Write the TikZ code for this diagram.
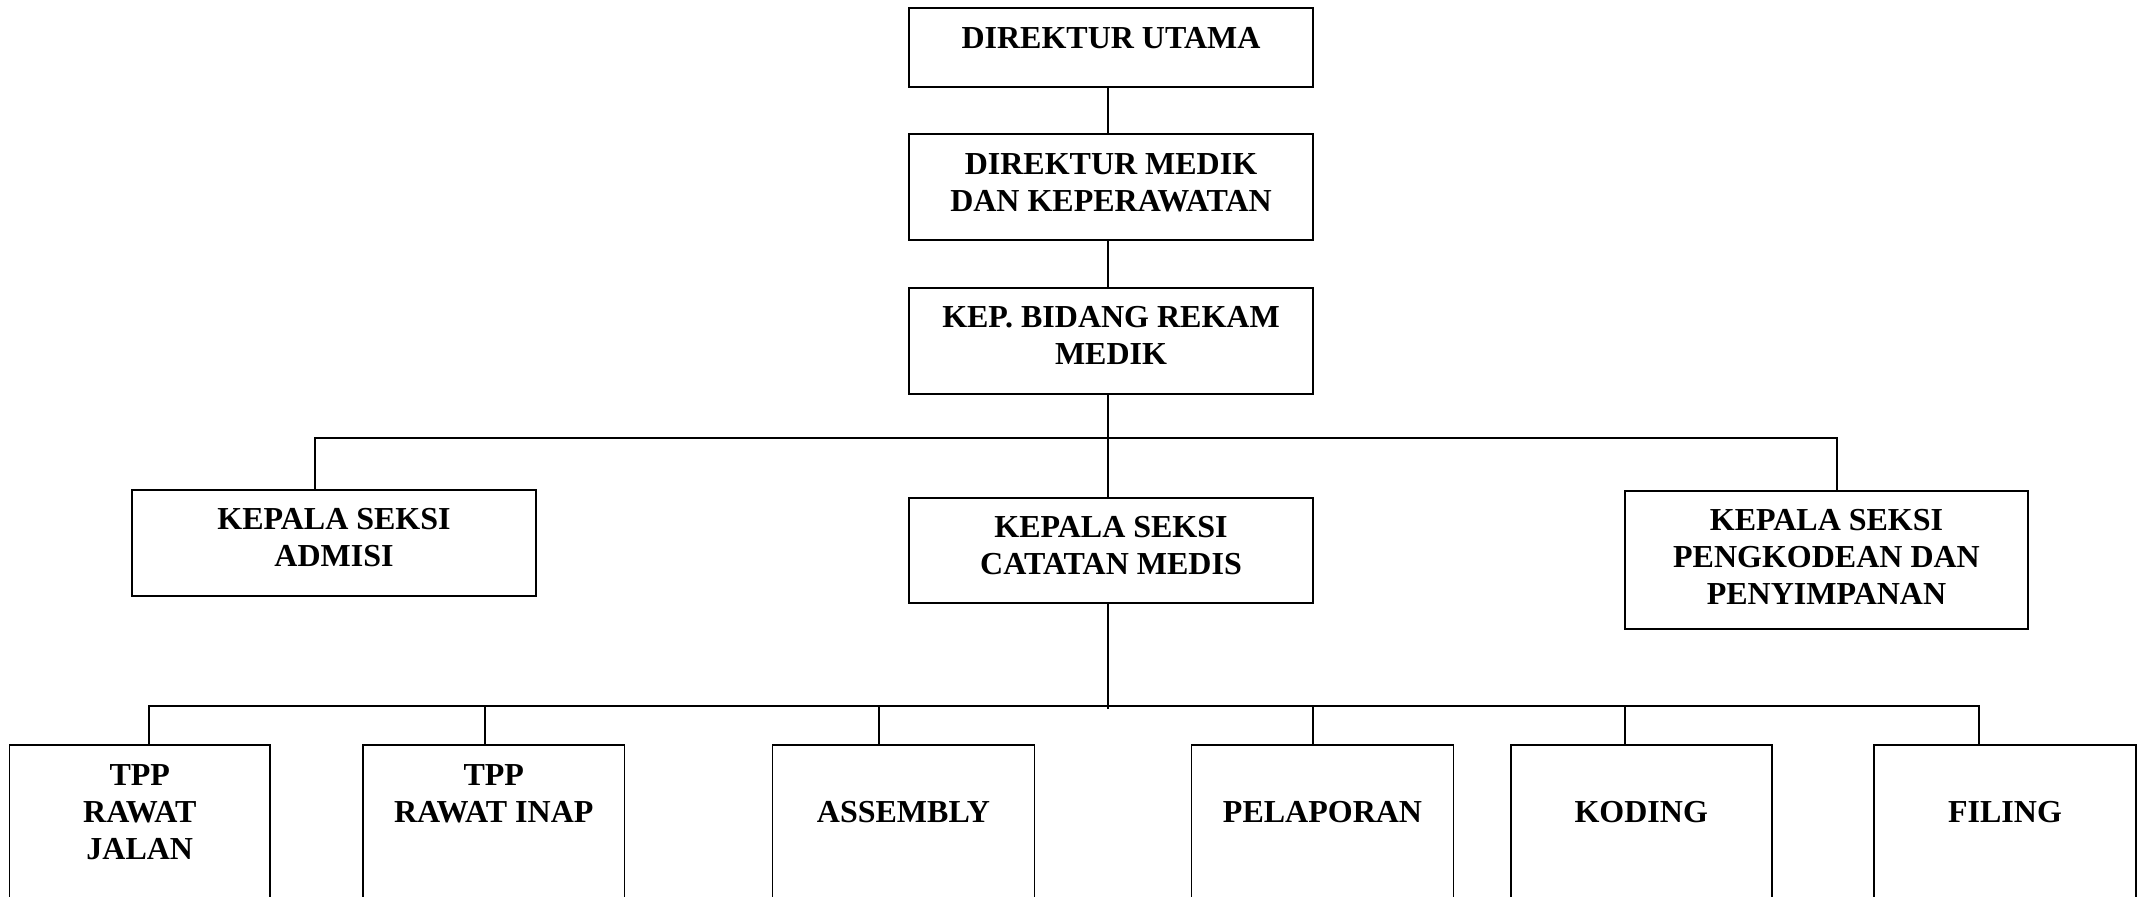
\documentclass[tikz,border=0pt]{standalone}
\usepackage{fontspec}
\setmainfont{Liberation Serif}
\begin{document}
\begin{tikzpicture}[x=0.5pt,y=-0.5pt,
  box/.style={draw=black,line width=0.8pt,rectangle,inner sep=0pt},
  conn/.style={draw=black,line width=0.9pt},
  txt/.style={inner sep=0pt,align=center,anchor=north,font=\fontsize{16}{18.5}\selectfont\bfseries}]
\clip (0,0) rectangle (2140,897);
\fill[white] (0,0) rectangle (2140,897);
% boxes
\node[box,minimum width=202pt,minimum height=39.5pt] (d1) at (1111,47.5) {};
\node[box,minimum width=202pt,minimum height=53pt] (d2) at (1111,187) {};
\node[box,minimum width=202pt,minimum height=53pt] (d3) at (1111,341) {};
\node[box,minimum width=202pt,minimum height=53pt] (adm) at (334,543) {};
\node[box,minimum width=202pt,minimum height=52.5pt] (cat) at (1111,550.5) {};
\node[box,minimum width=201.5pt,minimum height=69pt] (pk) at (1826.5,560) {};
\node[box,minimum width=130.25pt,minimum height=102.5pt] (b1) at (139.75,847.5) {};
\node[box,minimum width=130.75pt,minimum height=102.5pt] (b2) at (493.75,847.5) {};
\node[box,minimum width=131pt,minimum height=102.5pt] (b3) at (903.5,847.5) {};
\node[box,minimum width=131pt,minimum height=102.5pt] (b4) at (1322.5,847.5) {};
\node[box,minimum width=130.5pt,minimum height=102.5pt] (b5) at (1641.25,847.5) {};
\node[box,minimum width=131pt,minimum height=102.5pt] (b6) at (2005,847.5) {};
% texts
\node[txt] (t1) at ([yshift=-10pt]d1.north) {DIREKTUR UTAMA};
\node[txt] (t2) at ([yshift=-10pt]d2.north) {DIREKTUR MEDIK\\DAN KEPERAWATAN};
\node[txt] (t3) at ([yshift=-9.5pt]d3.north) {KEP. BIDANG REKAM\\MEDIK};
\node[txt] (tadm) at ([yshift=-9.5pt]adm.north) {KEPALA SEKSI\\ADMISI};
\node[txt] (tcat) at ([yshift=-9.5pt]cat.north) {KEPALA SEKSI\\CATATAN MEDIS};
\node[txt] (tpk) at ([yshift=-9.5pt]pk.north) {KEPALA SEKSI\\PENGKODEAN DAN\\PENYIMPANAN};
\node[txt] (tb1) at ([yshift=-10pt]b1.north) {TPP\\RAWAT\\JALAN};
\node[txt] (tb2) at ([yshift=-10pt]b2.north) {TPP\\RAWAT INAP};
\node[txt] (tb3) at ([yshift=-28.5pt]b3.north) {ASSEMBLY};
\node[txt] (tb4) at ([yshift=-28.5pt]b4.north) {PELAPORAN};
\node[txt] (tb5) at ([yshift=-28.5pt]b5.north) {KODING};
\node[txt] (tb6) at ([yshift=-28.5pt]b6.north) {FILING};
% connectors
\coordinate (sp) at (1108,0);
\draw[conn] (d1.south -| sp) -- (d2.north -| sp);
\draw[conn] (d2.south -| sp) -- (d3.north -| sp);
\draw[conn] (d3.south -| sp) -- (cat.north -| sp);
\coordinate (ha) at (315,438);
\coordinate (hb) at (1837,438);
\draw[conn] (adm.north -| ha) -- (ha) -- (hb) -- (pk.north -| hb);
\coordinate (c1) at (148.6,705.6);
\coordinate (c2) at (485,705.6);
\coordinate (c3) at (879,705.6);
\coordinate (c4) at (1313,705.6);
\coordinate (c5) at (1625,705.6);
\coordinate (c6) at (1979,705.6);
\coordinate (cend) at (1108,709);
\draw[conn] (cat.south -| sp) -- (cend);
\draw[conn] (b1.north -| c1) -- (c1) -- (c6) -- (b6.north -| c6);
\draw[conn] (c2) -- (b2.north -| c2);
\draw[conn] (c3) -- (b3.north -| c3);
\draw[conn] (c4) -- (b4.north -| c4);
\draw[conn] (c5) -- (b5.north -| c5);
\end{tikzpicture}
\end{document}
